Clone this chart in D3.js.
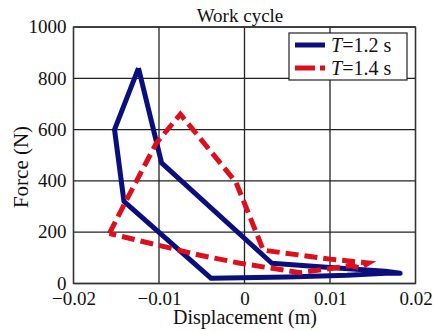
<!DOCTYPE html>
<html>
<head>
  <meta charset="utf-8">
  <script src="https://d3js.org/d3.v7.min.js"></script>
  <style>
    body { margin: 0; background: white; }
    text { font-family: "Liberation Serif", "DejaVu Serif", serif; fill: #111; }
  </style>
</head>
<body>
<svg id="chart" width="433" height="331"></svg>
<script>
  // loop for T = 1.2 s (displacement m, force N)
  var dispA = [-0.0124, -0.0152, -0.0141, -0.0039, 0.005, 0.012, 0.0165, 0.0182, 0.0165, 0.0143, 0.010, 0.0032, -0.0097, -0.0124];
  var forceA = [840, 600, 320, 20, 25, 32, 40, 40, 48, 53, 62, 79, 470, 840];
  // loop for T = 1.4 s
  var dispB = [-0.0158, -0.0142, -0.0103, -0.0075, -0.0010, 0.0022, 0.0100, 0.0145, 0.0135, 0.0125, 0.0065, -0.0005, -0.0052, -0.0158];
  var forceB = [195, 300, 548, 660, 395, 130, 95, 80, 60, 70, 42, 79, 110, 195];
  var xTicks = [-0.02, -0.01, 0, 0.01, 0.02];
  var yTicks = [0, 200, 400, 600, 800, 1000];
  var seriesNames = ["1.2", "1.4"];

  var svg = d3.select("#chart");
  var m = { left: 73.5, right: 415.5, top: 27, bottom: 283.5 };
  var serif = "'Liberation Serif', 'DejaVu Serif', serif";

  var x = d3.scaleLinear().domain([-0.02, 0.02]).range([m.left, m.right]);
  var y = d3.scaleLinear().domain([0, 1000]).range([m.bottom, m.top]);

  // grid
  svg.append("g").selectAll("line").data(xTicks).join("line")
    .attr("x1", d => x(d)).attr("x2", d => x(d))
    .attr("y1", m.top).attr("y2", m.bottom)
    .attr("stroke", "#222").attr("stroke-width", 1.3);
  svg.append("g").selectAll("line").data(yTicks).join("line")
    .attr("x1", m.left).attr("x2", m.right)
    .attr("y1", d => y(d)).attr("y2", d => y(d))
    .attr("stroke", "#222").attr("stroke-width", 1.3);

  var line = d3.line().x(d => x(d[0])).y(d => y(d[1]));
  var ptsA = dispA.map((d, i) => [d, forceA[i]]);
  var ptsB = dispB.map((d, i) => [d, forceB[i]]);

  svg.append("path").attr("d", line(ptsA))
    .attr("fill", "none").attr("stroke", "#0b0f7e")
    .attr("stroke-width", 5).attr("stroke-linejoin", "round");
  svg.append("path").attr("d", line(ptsB))
    .attr("fill", "none").attr("stroke", "#dd0f1c")
    .attr("stroke-width", 5).attr("stroke-dasharray", "13,6");

  // frame
  svg.append("rect").attr("x", m.left).attr("y", m.top)
    .attr("width", m.right - m.left).attr("height", m.bottom - m.top)
    .attr("fill", "none").attr("stroke", "#333").attr("stroke-width", 1.3);

  // axes
  var xAxis = d3.axisBottom(x).tickValues(xTicks).tickSize(0)
    .tickFormat(d => d === 0 ? "0" : d3.format(".2f")(d).replace("-", "\u2212"));
  svg.append("g").attr("transform", "translate(0," + m.bottom + ")").call(xAxis)
    .attr("font-family", serif).attr("font-size", 19)
    .call(g => g.select(".domain").remove())
    .selectAll("text").attr("dy", "0.95em").attr("fill", "#111");

  var yAxis = d3.axisLeft(y).tickValues(yTicks).tickSize(0).tickFormat(d3.format("d"));
  svg.append("g").attr("transform", "translate(" + (m.left - 4) + ",0)").call(yAxis)
    .attr("font-family", serif).attr("font-size", 19)
    .call(g => g.select(".domain").remove())
    .selectAll("text").attr("dy", "0.3em").attr("fill", "#111");

  // titles
  svg.append("text").attr("x", 240).attr("y", 22).attr("text-anchor", "middle")
    .style("font-size", "19px").text("Work cycle");
  svg.append("text").attr("x", 245).attr("y", 324).attr("text-anchor", "middle")
    .style("font-size", "20px").text("Displacement (m)");
  svg.append("text").attr("transform", "translate(28,167) rotate(-90)")
    .attr("text-anchor", "middle").style("font-size", "21px").text("Force (N)");

  // legend
  var lg = svg.append("g").attr("transform", "translate(289,33)");
  lg.append("rect").attr("width", 118).attr("height", 47)
    .attr("fill", "white").attr("stroke", "#222").attr("stroke-width", 1.2);
  var rows = lg.selectAll("g.row").data(seriesNames).join("g")
    .attr("class", "row").attr("transform", (d, i) => "translate(0," + (12 + i * 23) + ")");
  rows.append("line").attr("x1", 6).attr("x2", 36).attr("y1", 0).attr("y2", 0)
    .attr("stroke", (d, i) => i === 0 ? "#0b0f7e" : "#dd0f1c")
    .attr("stroke-width", 5)
    .attr("stroke-dasharray", (d, i) => i === 0 ? null : "20,5");
  var t = rows.append("text").attr("x", 42).attr("y", 7).style("font-size", "20px");
  t.append("tspan").style("font-style", "italic").text("T");
  t.append("tspan").text(d => "=" + d + " s");
</script>
</body>
</html>
